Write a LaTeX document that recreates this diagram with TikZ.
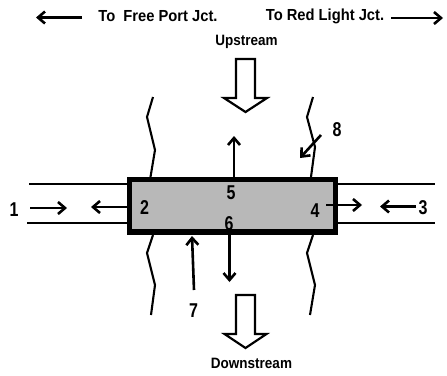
\documentclass[tikz,border=0pt]{standalone}
\usepackage{fontspec}
\setmainfont{Liberation Sans}
\usetikzlibrary{arrows.meta}
\tikzset{
 x=1pt,y=-1pt,
 thinline/.style={line width=2.1pt,black},
 road/.style={line width=2.2pt,black},
 flow/.style={line width=2.6pt,black,-{Straight Barb[length=7pt,width=12pt,line width=2.6pt]}},
 block/.style={line width=2.2pt,black,fill=white,line join=miter},
 lab/.style={inner sep=0pt,font=\bfseries\fontsize{20}{20}\selectfont,xscale=0.8,transform shape},
 txt/.style={inner sep=0pt,font=\bfseries\fontsize{16}{16}\selectfont,xscale=0.92,transform shape},
 subtxt/.style={inner sep=0pt,font=\bfseries\fontsize{15}{15}\selectfont,xscale=0.9,transform shape},
}
\begin{document}
\begin{tikzpicture}
\useasboundingbox (0,0) rectangle (447,375);
\coordinate (FPl) at (82,17.5); \coordinate (FPe) at (36,17.5);
\coordinate (RLl) at (391,18); \coordinate (RLe) at (443,18);
% roads
\draw[road] (29,184) -- (127,184);
\draw[road] (27,223) -- (127,223);
\draw[road] (338,184) -- (435,184);
\draw[road] (338,223) -- (435,223);
% wavy edges
\draw[thinline] (153,97) -- (147,117) -- (155,150) -- (150.5,177);
\draw[thinline] (153,235) -- (147,253) -- (155,285) -- (151,315);
\draw[thinline] (313,97) -- (307,117) -- (315,147) -- (311,177);
\draw[thinline] (313,235) -- (307,253) -- (315,285) -- (310,315);
% box
\node[draw=black,line width=5.4pt,fill=black!28,minimum width=206pt,minimum height=52.5pt,inner sep=0pt,outer sep=0pt,anchor=center] (box) at (232.5,205.75) {};
% block arrows
\draw[block] (236,59) -- (255,59) -- (255,98) -- (267,98) -- (245.5,112) -- (224,98) -- (236,98) -- cycle;
\draw[block] (236,295) -- (255,295) -- (255,334) -- (266.5,334) -- (245.5,348) -- (224.5,334) -- (236,334) -- cycle;
% top arrows
\draw[flow] (FPl) -- (FPe);
\draw[flow] (RLl) -- (RLe);
% flow arrows
\coordinate (a1s) at (30,208); \coordinate (a1e) at (67,208);
\coordinate (a2e) at (91,207);
\coordinate (a3s) at (416,206.5); \coordinate (a3e) at (380,206.5);
\coordinate (a4s) at (326,205); \coordinate (a4e) at (362,205);
\coordinate (a5e) at (234,136);
\coordinate (a6e) at (229.5,282);
\coordinate (a7s) at (194,290); \coordinate (a7e) at (192,236);
\coordinate (a8s) at (321,135); \coordinate (a8e) at (300,158);
\draw[flow] (a1s) -- (a1e);
\draw[flow] (box.west |- a2e) -- (a2e);
\draw[flow] (a3s) -- (a3e);
\draw[flow] (a4s) -- (a4e);
\draw[flow] (234,177) -- (a5e);
\draw[flow] (229.5,234) -- (a6e);
\draw[flow] (a7s) -- (a7e);
\draw[flow] (a8s) -- (a8e);
% labels
\node[txt] (tf) at (158,16.5) {To\ \ Free Port Jct.};
\node[txt] (tr) at (325,16.5) {To Red Light Jct.};
\node[subtxt] (up) at (246.5,42) {Upstream};
\node[subtxt] (dn) at (251.5,363) {Downstream};
\node[lab] (n1) at (14,210) {1};
\node[lab] (n2) at (144.5,208) {2};
\node[lab] (n3) at (423,208) {3};
\node[lab] (n4) at (315,211) {4};
\node[lab] (n5) at (231,193) {5};
\node[lab] (n6) at (229,224) {6};
\node[lab] (n7) at (193.5,311) {7};
\node[lab] (n8) at (337,130) {8};
\end{tikzpicture}
\end{document}
